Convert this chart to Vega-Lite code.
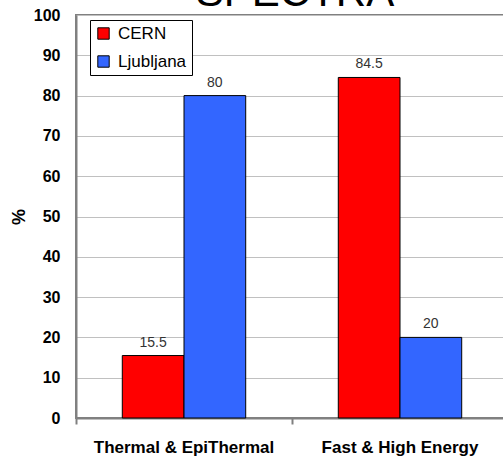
{
  "$schema": "https://vega.github.io/schema/vega-lite/v6.json",
  "autosize": {"type": "none"},
  "width": 432,
  "height": 403,
  "padding": {"left": 76, "top": 15, "right": 0, "bottom": 40},
  "background": "white",
  "title": {
    "text": "SPECTRA",
    "fontSize": 42,
    "font": "Liberation Sans",
    "fontWeight": "normal",
    "color": "black",
    "anchor": "middle",
    "frame": "group",
    "baseline": "alphabetic",
    "offset": -41,
    "dx": 3
  },
  "data": {
    "values": [
      {"range": "Thermal & EpiThermal", "site": "CERN", "pct": 15.5},
      {"range": "Thermal & EpiThermal", "site": "Ljubljana", "pct": 80},
      {"range": "Fast & High Energy", "site": "CERN", "pct": 84.5},
      {"range": "Fast & High Energy", "site": "Ljubljana", "pct": 20}
    ]
  },
  "encoding": {
    "x": {
      "field": "range",
      "type": "nominal",
      "sort": ["Thermal & EpiThermal", "Fast & High Energy"],
      "scale": {"paddingInner": 0, "paddingOuter": 0},
      "axis": {
        "title": null,
        "labelAngle": 0,
        "labelLimit": 0,
        "bandPosition": 0,
        "labelFont": "Liberation Sans",
        "labelFontSize": 17,
        "labelFontWeight": "bold",
        "labelColor": "black",
        "labelPadding": 15,
        "tickSize": 6,
        "tickColor": "#808080",
        "tickWidth": 2,
        "domainColor": "#808080",
        "domainWidth": 2,
        "grid": false
      }
    },
    "xOffset": {
      "field": "site",
      "type": "nominal",
      "sort": ["CERN", "Ljubljana"],
      "scale": {"paddingInner": 0, "paddingOuter": 0.75}
    },
    "y": {
      "field": "pct",
      "type": "quantitative",
      "scale": {"domain": [0, 100], "nice": false},
      "axis": {
        "title": "%",
        "titleFont": "Liberation Sans",
        "titleFontSize": 18,
        "titleFontWeight": "bold",
        "titleColor": "black",
        "titlePadding": 5,
        "values": [0, 10, 20, 30, 40, 50, 60, 70, 80, 90, 100],
        "labelFont": "Liberation Sans",
        "labelFontSize": 16,
        "labelFontWeight": "bold",
        "labelColor": "black",
        "labelPadding": 16,
        "ticks": false,
        "tickSize": 0,
        "domainColor": "#808080",
        "domainWidth": 2,
        "grid": true,
        "gridColor": "#c0c0c0",
        "gridWidth": 1
      }
    }
  },
  "layer": [
    {
      "mark": {"type": "bar", "stroke": "black", "strokeWidth": 1},
      "encoding": {
        "color": {
          "field": "site",
          "type": "nominal",
          "sort": ["CERN", "Ljubljana"],
          "scale": {"domain": ["CERN", "Ljubljana"], "range": ["#ff0000", "#3366ff"]},
          "legend": {
            "title": null,
            "orient": "none",
            "legendX": 14,
            "legendY": 5,
            "direction": "vertical",
            "fillColor": "white",
            "strokeColor": "black",
            "padding": 5,
            "rowPadding": 10,
            "symbolType": "square",
            "symbolSize": 130,
            "symbolStrokeColor": "black",
            "symbolStrokeWidth": 1,
            "symbolOpacity": 1,
            "labelFont": "Liberation Sans",
            "labelFontSize": 17,
            "labelColor": "black",
            "labelOffset": 6
          }
        }
      }
    },
    {
      "mark": {"type": "text", "baseline": "alphabetic", "dy": -9, "font": "Liberation Sans", "fontSize": 14, "color": "#333333"},
      "encoding": {
        "text": {"field": "pct", "type": "quantitative"}
      }
    }
  ],
  "config": {
    "view": {"stroke": "#808080", "strokeWidth": 2}
  }
}
